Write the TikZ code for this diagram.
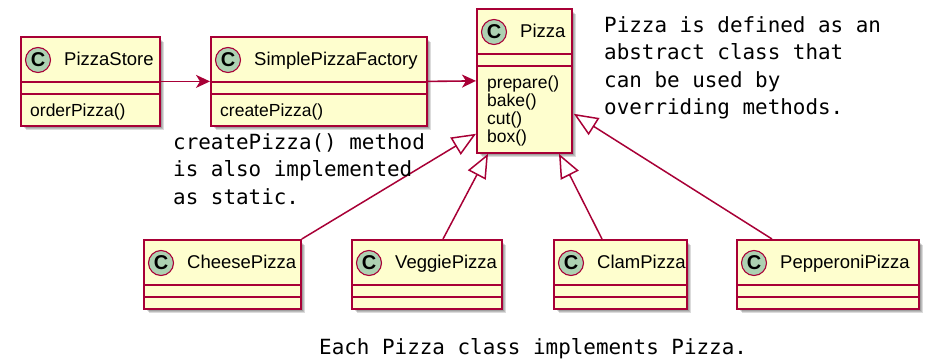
\documentclass[tikz,border=0pt]{standalone}
\usepackage{fontspec}
\setmainfont{Liberation Sans}
\newfontfamily\notefont{DejaVu Sans Mono}
\usetikzlibrary{arrows.meta,calc}
\definecolor{umlred}{HTML}{A80036}
\definecolor{umlfill}{HTML}{FEFECE}
\definecolor{umlcirc}{HTML}{ADD1B2}

% soft drop shadow behind a class box: x, y, width, height
\newcommand{\classshadow}[4]{%
  \foreach \k in {2,3,4,5,6}{%
    \fill[black, opacity=0.14] ({#1+\k},{#2+\k}) rectangle ({#1+#3+\k-1},{#2+#4+\k-1});
  }%
}
% class box with name compartment: node name, x, y, width, height, title
\newcommand{\umlclass}[6]{%
  \classshadow{#2}{#3}{#4}{#5}
  \node[classbox, minimum width=#4pt, minimum height=#5pt] (#1) at (#2,#3) {};
  \draw[divider] ($(#1.north west)+(0,46)$) -- ($(#1.north east)+(0,46)$);
  \draw[divider] ($(#1.north west)+(0,58)$) -- ($(#1.north east)+(0,58)$);
  \node[stereo] (#1-c) at ($(#1.north west)+(18,24)$) {C};
  \node[classname] (#1-t) at ($(#1.north west)+(44,29)$) {#6};
}

\begin{document}
\begin{tikzpicture}[x=1pt,y=-1pt,
  classbox/.style={rectangle, draw=umlred, fill=umlfill, line width=1.8pt, inner sep=0pt, anchor=north west},
  divider/.style={draw=umlred, line width=1.6pt},
  stereo/.style={circle, draw=umlred, line width=1.1pt, fill=umlcirc, minimum size=25pt, inner sep=0pt,
    font=\fontsize{20}{20}\selectfont\bfseries},
  classname/.style={anchor=base west, inner sep=0pt, font=\fontsize{18.5}{18.5}\selectfont},
  method/.style={anchor=base west, inner sep=0pt, font=\fontsize{17.5}{17.5}\selectfont},
  note/.style={anchor=base west, inner sep=0pt, font=\notefont\fontsize{20.9}{27.6}\selectfont},
  assoc/.style={draw=umlred, line width=1.6pt, -{Stealth[length=14pt,width=13pt,inset=4pt]}},
  extends/.style={draw=umlred, line width=1.5pt, -{Triangle[open,length=24pt,width=20pt,fill=white]}},
]
\useasboundingbox (0,0) rectangle (930,359);

% classes
\umlclass{store}{20}{36}{139}{89}{PizzaStore}
\umlclass{factory}{210}{36}{216}{89}{SimplePizzaFactory}
\umlclass{pizza}{476}{8}{95}{144}{Pizza}
\umlclass{cheese}{143}{239}{157}{69}{CheesePizza}
\umlclass{veggie}{351}{239}{150}{69}{VeggiePizza}
\umlclass{clam}{553}{239}{133}{69}{ClamPizza}
\umlclass{pepperoni}{736}{239}{182}{69}{PepperoniPizza}

% methods
\node[method] (m-order)  at ($(store.north west)+(10,80)$)   {orderPizza()};
\node[method] (m-create) at ($(factory.north west)+(10,80)$) {createPizza()};
\node[method] (m-prep)   at ($(pizza.north west)+(11,80)$)   {prepare()};
\node[method] (m-bake)   at ($(pizza.north west)+(11,98)$)   {bake()};
\node[method] (m-cut)    at ($(pizza.north west)+(11,116)$)  {cut()};
\node[method] (m-box)    at ($(pizza.north west)+(11,134)$)  {box()};

% associations
\draw[assoc] (store.east) -- (factory.west);
\draw[assoc] (factory.east) -- (pizza.west);

% generalizations
\draw[extends] (cheese.north east) -- ($(pizza.south west)+(0,-20)$);
\draw[extends] ($(veggie.north west)+(92,0)$) -- ($(pizza.south west)+(12,0)$);
\draw[extends] ($(clam.north west)+(49,0)$) -- ($(pizza.south west)+(83,0)$);
\draw[extends] ($(pepperoni.north west)+(36,0)$) -- ($(pizza.south east)+(1,-40)$);

% notes
\node[note] (note-pizza) at (604,32) {\begin{tabular}[t]{@{}l@{}}Pizza is defined as an\\abstract class that\\can be used by\\overriding methods.\end{tabular}};
\node[note] (note-static) at (173,149) {\begin{tabular}[t]{@{}l@{}}createPizza() method\\is also implemented\\as static.\end{tabular}};
\node[note] (note-each) at (319,354) {Each Pizza class implements Pizza.};
\end{tikzpicture}
\end{document}
